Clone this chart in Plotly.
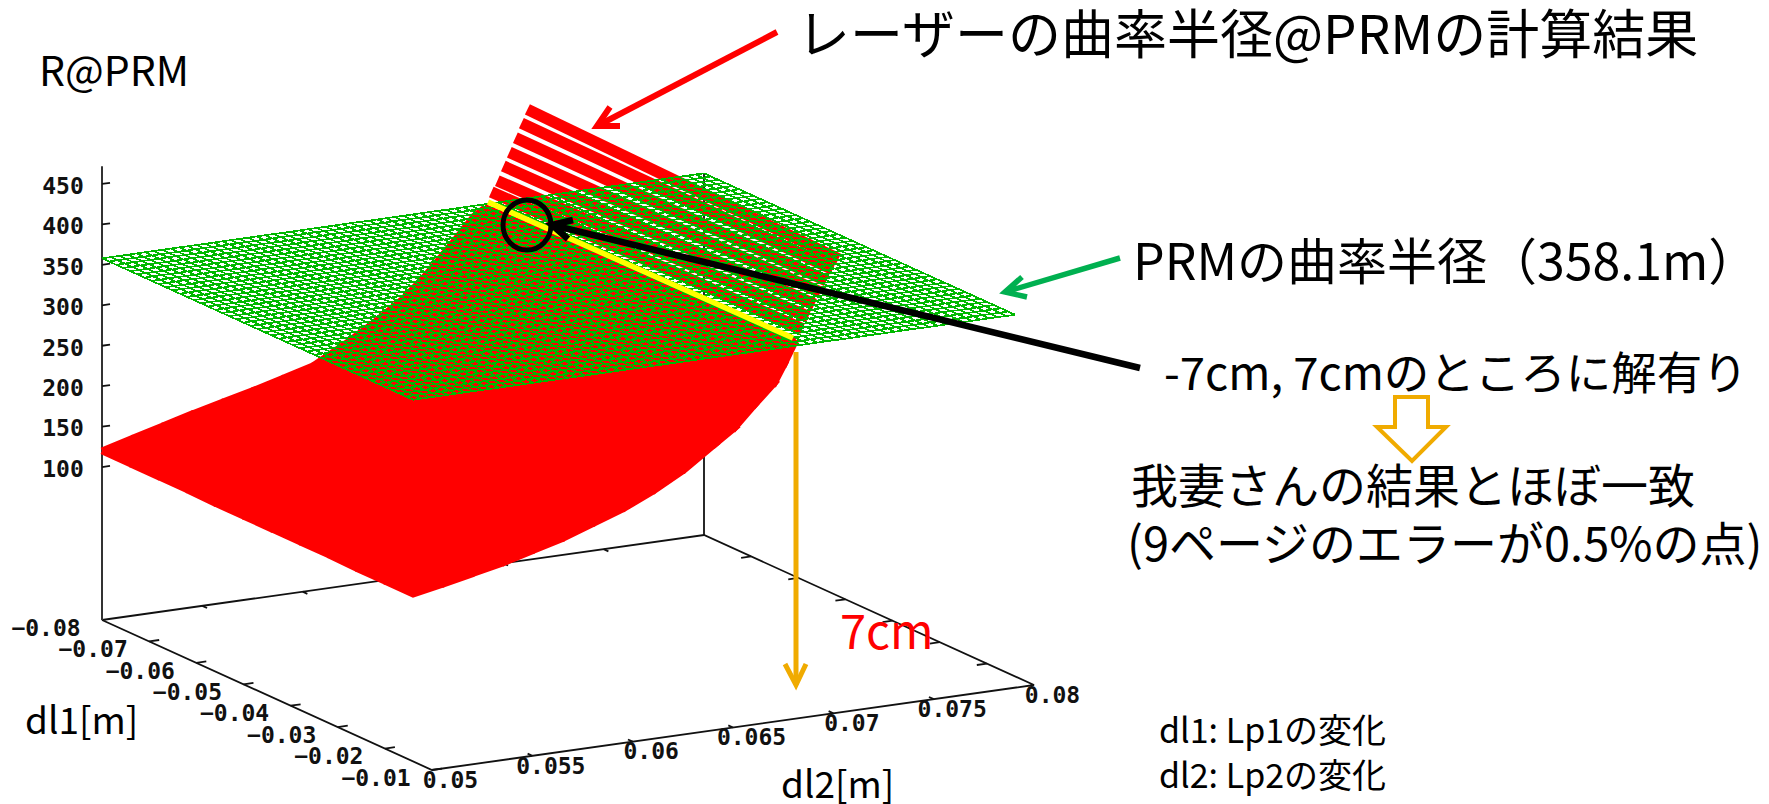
import plotly.graph_objects as go

# ---------- data ----------
DL1_RED = [-0.080, -0.074, -0.068, -0.062, -0.056, -0.050, -0.044, -0.038, -0.032, -0.026, -0.020, -0.014]
DL2_RED = [0.0500, 0.0515, 0.0530, 0.0545, 0.0560, 0.0575, 0.0590, 0.0605, 0.0620, 0.0635, 0.0650, 0.0660,
           0.0670, 0.0680, 0.0685, 0.0690, 0.0694, 0.0697, 0.0700, 0.0703, 0.0706, 0.0709, 0.0712]
# one row per dl2 value, one column per dl1 value
R_LASER = [
    [120, 120, 120, 120, 119, 119, 119, 119, 119, 118, 118, 118],
    [130, 130, 129, 129, 128, 128, 127, 127, 126, 126, 125, 125],
    [140, 139, 139, 138, 137, 137, 136, 135, 135, 134, 134, 133],
    [150, 149, 148, 148, 147, 146, 145, 144, 143, 143, 142, 141],
    [159, 158, 158, 157, 156, 155, 155, 154, 153, 152, 152, 151],
    [168, 167, 167, 166, 165, 165, 164, 164, 163, 162, 162, 161],
    [178, 178, 177, 177, 177, 176, 176, 175, 175, 175, 174, 174],
    [188, 188, 188, 188, 188, 188, 187, 187, 187, 187, 187, 187],
    [208, 208, 207, 207, 207, 206, 206, 206, 205, 205, 204, 204],
    [230, 229, 229, 228, 228, 227, 227, 226, 226, 225, 225, 224],
    [255, 255, 254, 254, 253, 253, 252, 252, 251, 251, 250, 250],
    [277, 276, 275, 274, 273, 272, 272, 271, 270, 269, 268, 267],
    [303, 302, 301, 300, 299, 298, 297, 296, 295, 294, 293, 292],
    [330, 329, 327, 326, 325, 324, 322, 321, 320, 319, 317, 316],
    [344, 343, 343, 342, 342, 341, 341, 340, 340, 339, 339, 338],
    [352, 353, 354, 355, 356, 357, 357, 358, 359, 360, 361, 362],
    [372, 373, 373, 374, 374, 375, 375, 376, 376, 377, 377, 378],
    [385, 386, 386, 387, 387, 388, 389, 389, 390, 391, 391, 392],
    [402, 402, 403, 403, 404, 404, 404, 405, 405, 405, 406, 406],
    [418, 418, 418, 419, 419, 419, 419, 419, 420, 420, 420, 420],
    [435, 435, 435, 435, 434, 434, 434, 434, 434, 433, 433, 433],
    [452, 452, 451, 451, 450, 450, 449, 449, 448, 447, 447, 446],
    [468, 467, 466, 465, 464, 463, 463, 462, 461, 460, 459, 458],
]
R_PRM = 358.1
DL1_GREEN_N = 44   # mesh intervals along dl1
DL2_GREEN_N = 70   # mesh intervals along dl2
DL1_MESH_RANGE = [-0.080, -0.014]
DL2_MESH_RANGE = [0.050, 0.080]

Z_TICKS = [100, 150, 200, 250, 300, 350, 400, 450]
DL1_TICKS = [-0.08, -0.07, -0.06, -0.05, -0.04, -0.03, -0.02, -0.01]
DL2_TICKS = [0.05, 0.055, 0.06, 0.065, 0.07, 0.075, 0.08]
DL1_LABELS = ["-0.08", "-0.07", "-0.06", "-0.05", "-0.04", "-0.03", "-0.02", "-0.01"]
DL2_LABELS = ["0.05", "0.055", "0.06", "0.065", "0.07", "0.075", "0.08"]

Z_BASE = -89
Z_TOP = 472

RED = "#ff0000"
GREEN = "#00b800"
AXIS = "#111111"
ORANGE = "#f0ab00"
JP = "Noto Sans CJK JP"
MONO = "DejaVu Sans Mono"


# gnuplot-style view: fixed oblique projection of (dl1, dl2, z) on the page
def project(dl1, dl2, z):
    u = (dl2 - 0.05) / 0.03
    v = (dl1 + 0.08) / 0.07
    return 102 + 602 * u + 330 * v, 620 - 85 * u + 150 * v - (z + 89) * 0.809


def seg_trace(points, color, width, dash=None):
    xs, ys = [], []
    for poly in points:
        for p in poly:
            x, y = project(*p)
            xs.append(x)
            ys.append(y)
        xs.append(None)
        ys.append(None)
    return go.Scatter(x=xs, y=ys, mode="lines", line=dict(color=color, width=width, dash=dash),
                      hoverinfo="skip", connectgaps=False)


fig = go.Figure()

# box axes
x0, x1 = -0.08, -0.01
u0, u1 = 0.05, 0.08
fig.add_trace(seg_trace([
    [(x0, u0, Z_BASE), (x0, u1, Z_BASE), (x1, u1, Z_BASE), (x1, u0, Z_BASE), (x0, u0, Z_BASE)],
    [(x0, u1, Z_BASE), (x0, u1, R_PRM)],
], AXIS, 1.8))
fig.add_trace(seg_trace([[(x0, u0, Z_BASE), (x0, u0, Z_TOP)]], "#333333", 2))
ticks = [[(x0, u0, z), (x0, u0 + 0.0004, z)] for z in Z_TICKS]
ticks += [[(d, u0, Z_BASE), (d, u0 + 0.0005, Z_BASE)] for d in DL1_TICKS[1:]]
ticks += [[(d, u1, Z_BASE), (d, u1 - 0.0005, Z_BASE)] for d in DL1_TICKS[1:-1]]
ticks += [[(x1, d, Z_BASE), (x1 - 0.001, d, Z_BASE)] for d in DL2_TICKS[1:-1]]
ticks += [[(x0, d, Z_BASE), (x0 + 0.001, d, Z_BASE)] for d in DL2_TICKS[1:-1]]
fig.add_trace(seg_trace(ticks, AXIS, 1.8))

# laser surface: filled cells up to the last dense column
FILL_COLS = 16
qx, qy = [], []
for i in range(FILL_COLS - 1):
    for j in range(len(DL1_RED) - 1):
        corners = [(j, i), (j + 1, i), (j + 1, i + 1), (j, i + 1), (j, i)]
        for a, b in corners:
            x, y = project(DL1_RED[a], DL2_RED[b], R_LASER[b][a])
            qx.append(x)
            qy.append(y)
        qx.append(None)
        qy.append(None)
fig.add_trace(go.Scatter(x=qx, y=qy, mode="lines", fill="toself", fillcolor=RED,
                         line=dict(color=RED, width=7), hoverinfo="skip"))
# laser surface: separate rows near the top
fig.add_trace(seg_trace(
    [[(DL1_RED[a], DL2_RED[b], R_LASER[b][a]) for a in range(len(DL1_RED))]
     for b in range(FILL_COLS - 1, len(DL2_RED))], RED, 11.5))

# PRM plane mesh
mesh = []
for k in range(DL1_GREEN_N + 1):
    d = DL1_MESH_RANGE[0] + (DL1_MESH_RANGE[1] - DL1_MESH_RANGE[0]) * k / DL1_GREEN_N
    mesh.append([(d, DL2_MESH_RANGE[0], R_PRM), (d, DL2_MESH_RANGE[1], R_PRM)])
for k in range(DL2_GREEN_N + 1):
    d = DL2_MESH_RANGE[0] + (DL2_MESH_RANGE[1] - DL2_MESH_RANGE[0]) * k / DL2_GREEN_N
    mesh.append([(DL1_MESH_RANGE[0], d, R_PRM), (DL1_MESH_RANGE[1], d, R_PRM)])
fig.add_trace(seg_trace(mesh, GREEN, 1.7))
MESH_TRACE_INDEX = len(fig.data) - 1

# tick labels
tx, ty, tt = [], [], []
for z in Z_TICKS:
    x, y = project(x0, u0, z)
    tx.append(x - 39)
    ty.append(y + 4)
    tt.append(str(z))
for d, lab in zip(DL1_TICKS, DL1_LABELS):
    x, y = project(d, u0, Z_BASE)
    tx.append(x - 56)
    ty.append(y + 10)
    tt.append(lab.replace("-", "\u2212"))
for d, lab in zip(DL2_TICKS, DL2_LABELS):
    x, y = project(x1, d, Z_BASE)
    tx.append(x + 18.5)
    ty.append(y + 12)
    tt.append(lab)
fig.add_trace(go.Scatter(x=tx, y=ty, mode="text", text=tt, textposition="middle center",
                         textfont=dict(family=MONO, size=23, color=AXIS, weight="bold"),
                         hoverinfo="skip"))

# slide annotations
shapes = []


def stroke(path, color, width, fill=None):
    shapes.append(dict(type="path", path=path, xref="x", yref="y",
                       line=dict(color=color, width=width), fillcolor=fill or "rgba(0,0,0,0)"))


stroke("M777,32 L597,126", RED, 6)
stroke("M610,107 L597,126 L620,126", RED, 6)
stroke("M1120,258 L1005,292", "#00b050", 5.5)
stroke("M1022,277 L1005,292 L1027,297", "#00b050", 5.5)
stroke("M488,202 L793,338", "#ffff00", 5.5)
stroke("M796,352 L796,685", ORANGE, 5)
stroke("M785,664 L796,685 L806,664", ORANGE, 5)
stroke("M1140,368 L552,225", "#000000", 6.5)
stroke("M573,220 L552,225 L568,239", "#000000", 6.5)
shapes.append(dict(type="circle", xref="x", yref="y", x0=503, x1=551, y0=200, y1=250,
                   line=dict(color="#000000", width=5)))
stroke("M1395,397 L1428,397 L1428,427 L1446,427 L1412,461 L1377,427 L1395,427 Z", ORANGE, 4, "#ffffff")

TEXTS = [
    ("レーザーの曲率半径@PRMの計算結果", 795, 31, 53, "#000000"),
    ("R@PRM", 37, 68, 41, "#000000"),
    ("PRMの曲率半径（358.1m）", 1131, 258, 50, "#000000"),
    ("-7cm, 7cmのところに解有り", 1162, 370, 45.5, "#000000"),
    ("我妻さんの結果とほぼ一致", 1129, 482, 47, "#000000"),
    ("(9ページのエラーが0.5%の点)", 1125, 540, 47, "#000000"),
    ("7cm", 838, 628, 47, RED),
    ("dl1[m]", 23, 718, 37, "#000000"),
    ("dl2[m]", 779, 782, 37, "#000000"),
    ("dl1: Lp1の変化", 1157, 728, 34, "#000000"),
    ("dl2: Lp2の変化", 1157, 773, 34, "#000000"),
]
annotations = [dict(text=t, x=x, y=y, xref="x", yref="y", xanchor="left", yanchor="middle",
                    showarrow=False, font=dict(family=JP, size=s, color=c))
               for t, x, y, s, c in TEXTS]

fig.update_layout(
    width=1769, height=804, margin=dict(l=0, r=0, t=0, b=0),
    paper_bgcolor="#ffffff", plot_bgcolor="#ffffff", showlegend=False,
    xaxis=dict(range=[0, 1769], visible=False, fixedrange=True),
    yaxis=dict(range=[804, 0], visible=False, fixedrange=True),
    shapes=shapes, annotations=annotations,
)

post = """
document.body.style.margin='0';
document.documentElement.style.overflow='hidden';
var tr = document.querySelectorAll('.scatterlayer .trace')[%d];
if (tr) { tr.querySelectorAll('path').forEach(function(p){ p.style.shapeRendering='crispEdges'; }); }
""" % MESH_TRACE_INDEX
fig.write_html("out.html", config=dict(displayModeBar=False), post_script=post)
